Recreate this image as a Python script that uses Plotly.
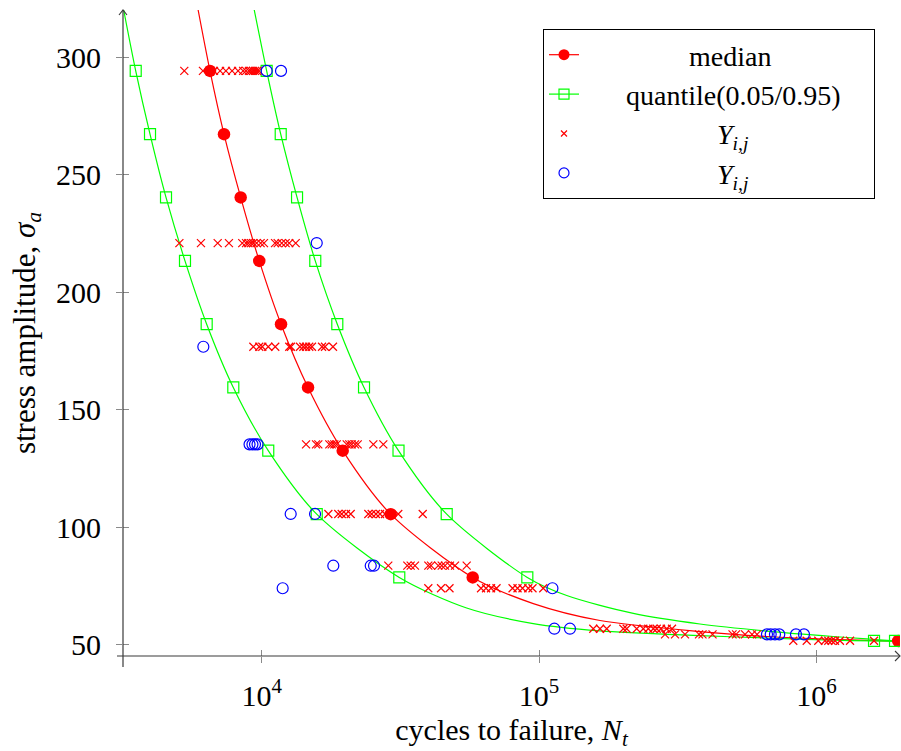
import plotly.graph_objects as go

# ---------------------------------------------------------------- data
# Stress amplitudes at which the fitted curves are marked
stress_levels = [294.1, 267.2, 240.3, 213.3, 186.4, 159.5, 132.6, 105.6, 78.7, 51.7]

# Marked cycles to failure of the fitted curves at those levels
median_cycles = [6510, 7313, 8400, 9800, 11740, 14690, 19590, 29170, 57640, 1970000]
q05_cycles = [3514, 3957, 4519, 5290, 6334, 7900, 10560, 15790, 31330, 1612000]
q95_cycles = [10420, 11710, 13410, 15600, 18730, 23380, 31130, 46450, 90690, 1919000]

# Traced points of the fitted curves (including the ends beyond the marks)
median_curve_cycles = [5900, 6510, 7313, 8400, 9800, 11740, 14690, 19590, 29170,
                       57640, 95300, 165800, 380000, 661500, 1147000, 1970000]
median_curve_stress = [320, 294.1, 267.2, 240.3, 213.3, 186.4, 159.5, 132.6, 105.6,
                       78.7, 67.6, 60.4, 55.7, 53.6, 52.4, 51.7]

q05_curve_cycles = [3180, 3514, 3957, 4519, 5290, 6334, 7900, 10560, 15790, 31330,
                    54800, 95300, 165800, 380000, 661500, 1147000, 1612000, 2000000]
q05_curve_stress = [320, 294.1, 267.2, 240.3, 213.3, 186.4, 159.5, 132.6, 105.6, 78.7,
                    65.7, 59.1, 56.0, 54.0, 52.95, 52.0, 51.7, 51.5]

q95_curve_cycles = [9400, 10420, 11710, 13410, 15600, 18730, 23380, 31130, 46450, 90690,
                    125800, 218600, 380000, 661500, 1148000, 1517000, 1919000, 2000000]
q95_curve_stress = [320, 294.1, 267.2, 240.3, 213.3, 186.4, 159.5, 132.6, 105.6, 78.7,
                    71.0, 63.4, 58.9, 55.9, 53.6, 52.6, 51.7, 51.6]

# Test series 1 (red crosses): cycles to failure per stress level
s1_levels = [294.1, 220.9, 176.8, 135.3, 105.7, 83.7, 74.1, 56.9, 54.5, 51.8]
s1_cycles = [
    [5260, 6140, 6730, 7080, 7430, 7820, 8220, 8570, 8780, 8990, 9140, 9310, 9460, 9620, 9770],
    [5050, 6040, 6940, 7620, 8510, 8780, 8950, 9150, 9330, 9590, 9910,
     10190, 11170, 11420, 11810, 12200, 12570, 13260],
    [9330, 9800, 10050, 10560, 11190, 12570, 12750, 13740, 14130, 14450, 14840, 15180,
     16500, 16910, 18070],
    [14450, 15700, 16000, 17530, 17880, 18270, 18640, 20250, 20690, 21110, 21700, 22190,
     25260, 27440],
    [17390, 18880, 19430, 20130, 20930, 24230, 24920, 25820, 26700, 27820, 31070, 38060],
    [28600, 33490, 34440, 35690, 39870, 40770, 43320, 44560, 45800, 47730, 49760, 54830],
    [39870, 44300, 47530, 61760, 64380, 67100, 70230, 80220, 83610, 87140, 91410, 94670,
     103500],
    [156800, 165800, 175300, 201200, 206900, 224800, 237500, 247600, 258100, 265500,
     275100, 288400, 301400],
    [284400, 309000, 335700, 377100, 388200, 421900, 498100, 512800, 552500, 585600,
     610400],
    [824600, 922000, 1015000, 1073000, 1103000, 1134000, 1166000, 1215000, 1321000,
     1612000],
]

# Test series 2 (blue circles)
s2_levels = [294.1, 220.9, 176.8, 135.3, 105.7, 83.7, 74.1, 56.9, 54.5]
s2_cycles = [
    [10420, 11740],
    [15790],
    [6160],
    [9040, 9260, 9460, 9660],
    [12720, 15570],
    [18120, 24720, 25400],
    [11900, 111700],
    [113500, 129200],
    [663000, 683800, 708500, 734200, 843500, 901300],
]

# Axis ticks
x_tick_vals = [1e4, 1e5, 1e6]
x_tick_text = ["10<sup>4</sup>", "10<sup>5</sup>", "10<sup>6</sup>"]
y_tick_vals = [50, 100, 150, 200, 250, 300]

x_range_log = [3.5, 6.30103]
y_range = [45.3, 320]


def flatten(levels, groups):
    xs, ys = [], []
    for lvl, grp in zip(levels, groups):
        xs.extend(grp)
        ys.extend([lvl] * len(grp))
    return xs, ys


s1_x, s1_y = flatten(s1_levels, s1_cycles)
s2_x, s2_y = flatten(s2_levels, s2_cycles)

RED = "#ff0000"
GREEN = "#00ff00"
BLUE = "#0000ff"
NB = "\u00a0"
FONT = "Liberation Serif"

fig = go.Figure()

# fitted curves
for cx, cy, col in [(median_curve_cycles, median_curve_stress, RED),
                    (q05_curve_cycles, q05_curve_stress, GREEN),
                    (q95_curve_cycles, q95_curve_stress, GREEN)]:
    fig.add_trace(go.Scatter(x=cx, y=cy, mode="lines", showlegend=False,
                             line=dict(color=col, width=1.2, shape="spline", smoothing=0.8),
                             hoverinfo="skip"))

# curve marks
fig.add_trace(go.Scatter(x=median_cycles, y=stress_levels, mode="markers", showlegend=False,
                         marker=dict(symbol="circle", size=12.5, color=RED)))
for qc in (q05_cycles, q95_cycles):
    fig.add_trace(go.Scatter(x=qc, y=stress_levels, mode="markers", showlegend=False,
                             marker=dict(symbol="square-open", size=11, color=GREEN,
                                         line=dict(width=1.2, color=GREEN))))

# test data
fig.add_trace(go.Scatter(x=s1_x, y=s1_y, mode="markers", showlegend=False,
                         marker=dict(symbol="x-thin-open", size=8, color=RED,
                                     line=dict(width=1.2, color=RED))))
fig.add_trace(go.Scatter(x=s2_x, y=s2_y, mode="markers", showlegend=False,
                         marker=dict(symbol="circle-open", size=11, color=BLUE,
                                     line=dict(width=1.2, color=BLUE))))

# legend entries
legend_items = [
    (NB * 15 + "median", "lines+markers",
     dict(symbol="circle", size=11, color=RED), dict(color=RED, width=1.2)),
    (NB * 6 + "quantile(0.05/0.95)" + NB * 4, "lines+markers",
     dict(symbol="square-open", size=10, color=GREEN, line=dict(width=1.2, color=GREEN)),
     dict(color=GREEN, width=1.2)),
    (NB * 19 + "<i>Y</i><sub><i>i,j</i></sub>", "markers",
     dict(symbol="x-thin-open", size=6, color=RED, line=dict(width=1.2, color=RED)), None),
    (NB * 19 + "<i>Y</i><sub><i>i,j</i></sub>", "markers",
     dict(symbol="circle-open", size=10, color=BLUE, line=dict(width=1.2, color=BLUE)), None),
]
for i, (name, mode, mk, ln) in enumerate(legend_items):
    kw = dict(x=[None], y=[None], mode=mode, name=name, marker=mk,
              legendgroup=f"g{i}", showlegend=True)
    if ln is not None:
        kw["line"] = ln
    fig.add_trace(go.Scatter(**kw))

# inner half of the centred tick marks
fig.add_trace(go.Scatter(x=[None], y=[None], xaxis="x2", yaxis="y2", showlegend=False))

tick_col = "#8a8a8a"
fig.update_layout(
    width=901, height=751,
    margin=dict(l=123, r=1, t=10, b=95),
    paper_bgcolor="white", plot_bgcolor="white",
    font=dict(family=FONT, size=30, color="black"),
    legend=dict(x=(543 - 123) / 777, y=(656 - 29) / 646, xanchor="left", yanchor="top",
                bgcolor="white", bordercolor="black", borderwidth=1,
                font=dict(family=FONT, size=28, color="black"),
                tracegroupgap=0, traceorder="normal"),
    xaxis=dict(type="log", range=x_range_log, tickvals=x_tick_vals, ticktext=x_tick_text,
               ticks="outside", ticklen=6, tickwidth=1, tickcolor=tick_col,
               showgrid=False, zeroline=False, showline=False,
               tickfont=dict(size=30), ticklabelstandoff=7,
               title=dict(text="cycles to failure, <i>N</i><sub><i>t</i></sub>",
                          font=dict(size=30), standoff=12)),
    yaxis=dict(range=y_range, tickvals=y_tick_vals,
               ticks="outside", ticklen=6, tickwidth=1, tickcolor=tick_col,
               showgrid=False, zeroline=False, showline=False,
               tickfont=dict(size=30), ticklabelstandoff=9,
               title=dict(text="stress amplitude, <i>σ</i><sub><i>a</i></sub>",
                          font=dict(size=31), standoff=11)),
    xaxis2=dict(type="log", range=x_range_log, tickvals=x_tick_vals, overlaying="x",
                anchor="y2", side="bottom", ticks="inside", ticklen=6, tickwidth=1,
                tickcolor=tick_col, showticklabels=False, showgrid=False,
                zeroline=False, showline=False),
    yaxis2=dict(range=y_range, tickvals=y_tick_vals, overlaying="y", anchor="x2",
                side="left", ticks="inside", ticklen=6, tickwidth=1, tickcolor=tick_col,
                showticklabels=False, showgrid=False, zeroline=False, showline=False),
)

# axis lines with open arrow heads
AX = "#3a3a3a"
shapes = [
    dict(type="line", xref="paper", yref="paper", xsizemode="pixel", xanchor=0,
         x0=-6, x1=777, y0=0, y1=0, line=dict(color=AX, width=1.2)),
    dict(type="line", xref="paper", yref="paper", ysizemode="pixel", yanchor=0,
         y0=-11, y1=646, x0=0, x1=0, line=dict(color=AX, width=1.2)),
    dict(type="path", xref="paper", yref="paper", xsizemode="pixel", ysizemode="pixel",
         xanchor=1, yanchor=0, path="M -5 5 L 0 0 L -5 -5",
         line=dict(color=AX, width=1.1)),
    dict(type="path", xref="paper", yref="paper", xsizemode="pixel", ysizemode="pixel",
         xanchor=0, yanchor=1, path="M -4 -5 L 0 0 L 4 -5",
         line=dict(color=AX, width=1.1)),
]
fig.update_layout(shapes=shapes)

fig.write_html("out.html")
